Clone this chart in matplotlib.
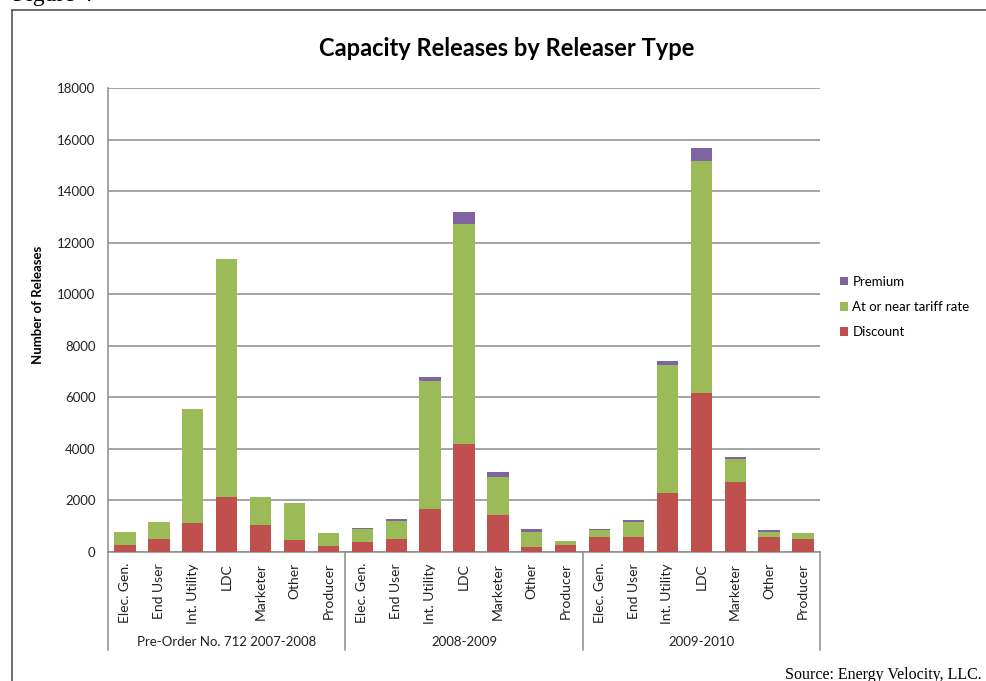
import matplotlib
matplotlib.use("Agg")
import matplotlib.pyplot as plt
from matplotlib.lines import Line2D
import numpy as np

plt.rcParams['font.family'] = ['Lato', 'DejaVu Sans']

releaser_types = ["Elec. Gen.", "End User", "Int. Utility", "LDC", "Marketer", "Other", "Producer"]
periods = ["Pre-Order No. 712 2007-2008", "2008-2009", "2009-2010"]

# releases per type, one list per period (same order as releaser_types)
discount = [270, 500, 1140, 2120, 1060, 465, 220,
            400, 515, 1660, 4195, 1450, 180, 270,
            570, 570, 2290, 6175, 2720, 570, 520]
tariff = [500, 650, 4400, 9230, 1060, 1435, 505,
          480, 675, 4980, 8530, 1460, 585, 170,
          270, 610, 4970, 9000, 905, 220, 220]
premium = [0, 0, 0, 0, 0, 0, 0,
           50, 90, 130, 465, 195, 125, 0,
           65, 65, 155, 515, 65, 75, 0]

c_disc = "#C0504D"
c_tar = "#9BBB59"
c_prem = "#8064A2"
grid_c = "#8C8C8C"
txt_c = "#222222"

W, H = 986, 681
fig = plt.figure(figsize=(W / 100, H / 100), dpi=100)
ax = fig.add_axes([108 / W, (H - 552) / H, (820 - 108) / W, (552 - 88) / H])

x = np.arange(len(discount))
d = np.array(discount)
t = np.array(tariff)
p = np.array(premium)
b1 = ax.bar(x, d, 0.63, color=c_disc, zorder=3)
b2 = ax.bar(x, t, 0.63, bottom=d, color=c_tar, zorder=3)
b3 = ax.bar(x, p, 0.63, bottom=d + t, color=c_prem, zorder=3)

ax.set_xlim(-0.5, len(x) - 0.5)
ax.set_ylim(0, 18000)
ax.set_yticks(np.arange(0, 18001, 2000))
ax.yaxis.grid(True, color=grid_c, lw=1.1, zorder=0)
ax.tick_params(axis='y', length=0, pad=9, labelsize=9.5, labelcolor=txt_c)
ax.set_xticks(x, releaser_types * 3, rotation=90, fontsize=10, color=txt_c)
ax.tick_params(axis='x', length=0, pad=8)
for s in ["top", "right"]:
    ax.spines[s].set_visible(False)
for s in ["left", "bottom"]:
    ax.spines[s].set_color(grid_c)
    ax.spines[s].set_linewidth(1.1)

# group separators and period labels under the category labels
xt = ax.get_xaxis_transform()
drop = -(650 - 552) / (552 - 88)
for sx in [-0.5, 6.5, 13.5, 20.5]:
    ax.plot([sx, sx], [0, drop], color=grid_c, lw=1.1, transform=xt, clip_on=False)
for i, name in enumerate(periods):
    ax.text(3 + 7 * i, -(642 - 552) / (552 - 88), name, transform=xt,
            ha='center', va='center', fontsize=9.5, color=txt_c)

ax.set_ylabel("Number of Releases", fontsize=9.5, fontweight='bold')
ax.yaxis.set_label_coords(-(108 - 44) / (820 - 108), (552 - 305) / (552 - 88))

fig.text(507 / W, 1 - 48 / H, "Capacity Releases by Releaser Type",
         ha='center', va='center', fontsize=17, fontweight='bold')

fig.legend([b3, b2, b1], ["Premium", "At or near tariff rate", "Discount"],
           loc='upper left', bbox_to_anchor=(828 / W, 1 - 264 / H),
           frameon=False, fontsize=9.5, handlelength=0.6, handleheight=0.6,
           handletextpad=0.35, labelspacing=1.0)

# frame lines and captions around the chart
fig.add_artist(Line2D([12 / W, 1], [1 - 9.5 / H, 1 - 9.5 / H], color="#555555", lw=1.2))
fig.add_artist(Line2D([12 / W, 12 / W], [0, 1 - 9.5 / H], color="#555555", lw=1.2))
fig.text(13 / W, 1 - 1 / H, "Figure 4", ha='left', va='baseline',
         fontsize=17, family='Liberation Serif')
fig.text(982 / W, 1 - 675 / H, "Source: Energy Velocity, LLC.", ha='right', va='center',
         fontsize=11.5, family='Liberation Serif')

fig.savefig("out.png", dpi=100)
